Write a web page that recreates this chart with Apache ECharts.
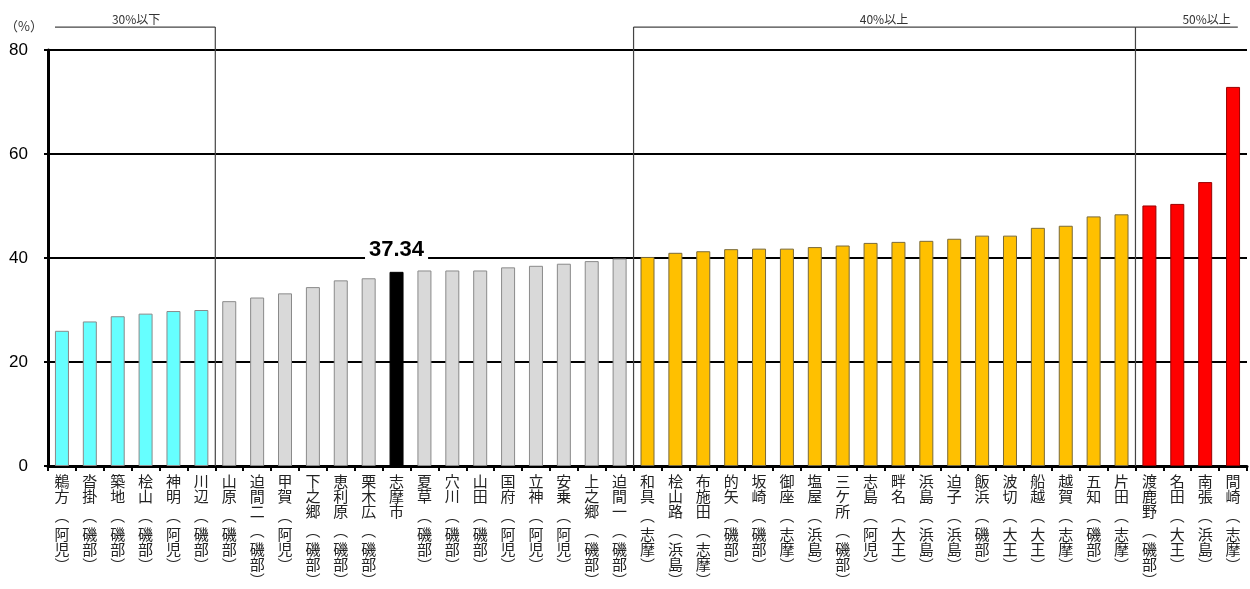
<!DOCTYPE html>
<html>
<head>
<meta charset="utf-8">
<script src="https://cdn.jsdelivr.net/npm/echarts@6/dist/echarts.min.js"></script>
<style>
  html, body { margin: 0; padding: 0; background: #fff; }
  #chart { width: 1250px; height: 589px; }
</style>
</head>
<body>
<div id="chart"></div>
<script>
// ---- data ----
const names = ['鵜方','沓掛','築地','桧山','神明','川辺','山原','迫間二','甲賀','下之郷','恵利原','栗木広','志摩市','夏草','穴川','山田','国府','立神','安乗','上之郷','迫間一','和具','桧山路','布施田','的矢','坂崎','御座','塩屋','三ケ所','志島','畔名','浜島','迫子','飯浜','波切','船越','越賀','五知','片田','渡鹿野','名田','南張','間崎'];
const districts = ['阿児','磯部','磯部','磯部','阿児','磯部','磯部','磯部','阿児','磯部','磯部','磯部','','磯部','磯部','磯部','阿児','阿児','阿児','磯部','磯部','志摩','浜島','志摩','磯部','磯部','志摩','浜島','磯部','阿児','大王','浜島','浜島','磯部','大王','大王','志摩','磯部','志摩','磯部','大王','浜島','志摩'];
const values = [26.0, 27.8, 28.8, 29.3, 29.8, 30.0, 31.7, 32.4, 33.2, 34.4, 35.7, 36.1, 37.34, 37.6, 37.6, 37.6, 38.2, 38.5, 38.9, 39.4, 39.9, 40.2, 41.0, 41.3, 41.7, 41.8, 41.8, 42.1, 42.4, 42.9, 43.1, 43.3, 43.7, 44.3, 44.3, 45.8, 46.2, 48.0, 48.4, 50.1, 50.4, 54.6, 72.9];
const cityName = '志摩市';
const yTicks = [0, 20, 40, 60, 80];
const bracketLabels = ['30%以下', '40%以上', '50%以上'];

// ---- styling / annotation layout ----
const bracketFrom = [[0, -0.25], [21, -0.5], [39, -0.5]];
const bracketTo = [[5, 0.5], [38, 0.5], [42, 0.17]];
const bracketText = [[3, -0.34], [29, 0.48], [41, 0.05]];
const bracketVerts = [[[5, 0.5]], [[21, -0.5], [38, 0.5]], []];

function barStyle(name, v) {
  if (name === cityName) return { color: '#000000', borderColor: '#000000', borderWidth: 1 };
  if (v <= 30) return { color: '#66FFFF', borderColor: '#8a8a8a', borderWidth: 1 };
  if (v < 40) return { color: '#D9D9D9', borderColor: '#8a8a8a', borderWidth: 1 };
  if (v < 50) return { color: '#FFC000', borderColor: '#7a6a3a', borderWidth: 1 };
  return { color: '#FF0000', borderColor: '#9a0000', borderWidth: 1 };
}

const barData = names.map((n, i) => {
  const item = { value: values[i], itemStyle: barStyle(n, values[i]) };
  if (n === cityName) {
    item.label = {
      show: true, position: 'top', distance: 6,
      formatter: p => Number(p.value).toFixed(2),
      fontSize: 22, fontWeight: 'bold', fontFamily: 'Liberation Sans, Arial, sans-serif',
      color: '#000', backgroundColor: '#fff', padding: [1, 4, 5, 4], lineHeight: 21
    };
  }
  return item;
});

const chart = echarts.init(document.getElementById('chart'), null, { renderer: 'canvas' });

chart.setOption({
  animation: false,
  backgroundColor: '#fff',
  grid: { left: 48, right: 3, top: 50, bottom: 123, containLabel: false },
  xAxis: {
    type: 'category',
    data: names,
    axisLine: { lineStyle: { color: '#000', width: 3 } },
    axisTick: { show: true, length: 5, lineStyle: { color: '#000', width: 2 } },
    axisLabel: {
      interval: 0, margin: 8,
      fontSize: 15, lineHeight: 15, color: '#222',
      fontFamily: '"Noto Sans CJK JP", sans-serif',
      verticalAlign: 'top',
      formatter: (val, idx) => {
        const d = districts[idx];
        let lines = val.split('').map(ch => '{c|' + ch + '}');
        if (d) {
          lines.push('{o|︵}');
          d.split('').forEach(ch => lines.push('{c|' + ch + '}'));
          lines.push('{e|︶}');
        }
        return lines.join('\n');
      },
      rich: {
        c: { fontSize: 15, lineHeight: 15, color: '#222', fontFamily: '"Noto Sans CJK JP", sans-serif' },
        o: { fontSize: 15, lineHeight: 23, color: '#222', fontFamily: '"Noto Sans CJK JP", sans-serif' },
        e: { fontSize: 15, lineHeight: 16, color: '#222', fontFamily: '"Noto Sans CJK JP", sans-serif' }
      }
    }
  },
  yAxis: {
    type: 'value',
    min: yTicks[0], max: yTicks[yTicks.length - 1], interval: 20,
    name: '（%）', nameLocation: 'end', nameGap: 17,
    nameTextStyle: { fontSize: 13, color: '#333', align: 'right', padding: [0, 5, 0, 0], fontFamily: '"Noto Sans CJK JP", sans-serif' },
    axisLine: { show: true, lineStyle: { color: '#000', width: 3 } },
    axisTick: { show: true, length: 4, lineStyle: { color: '#000', width: 2 } },
    axisLabel: { margin: 20, fontSize: 17, color: '#000', fontFamily: 'Liberation Sans, Arial, sans-serif' },
    splitLine: { show: true, lineStyle: { color: '#000', width: 2 } }
  },
  series: [
    {
      type: 'bar',
      data: barData,
      barWidth: 14,
      z: 2
    },
    {
      type: 'custom',
      clip: false,
      silent: true,
      z: 3,
      data: bracketLabels.map((l, i) => [i, 0]),
      renderItem: (params, api) => {
        const k = params.dataIndex;
        const band = api.size([1, 0])[0];
        const X = p => api.coord([p[0], 0])[0] + p[1] * band;
        const yLine = api.coord([0, 84.4])[1];
        const yText = api.coord([0, 85.9])[1];
        const y0 = api.coord([0, 0])[1];
        const children = [{
          type: 'line',
          shape: { x1: X(bracketFrom[k]), y1: yLine, x2: X(bracketTo[k]), y2: yLine },
          style: { stroke: '#444', lineWidth: 1.2 }
        }];
        bracketVerts[k].forEach(v => {
          const x = X(v);
          children.push({
            type: 'line',
            shape: { x1: x, y1: yLine, x2: x, y2: y0 },
            style: { stroke: '#444', lineWidth: 1.2 }
          });
        });
        children.push({
          type: 'text',
          style: {
            x: X(bracketText[k]), y: yText, text: bracketLabels[k],
            fill: '#333', fontSize: 12, fontFamily: '"Noto Sans CJK JP", sans-serif',
            align: 'center', verticalAlign: 'middle'
          }
        });
        return { type: 'group', children };
      }
    }
  ]
});
</script>
</body>
</html>
